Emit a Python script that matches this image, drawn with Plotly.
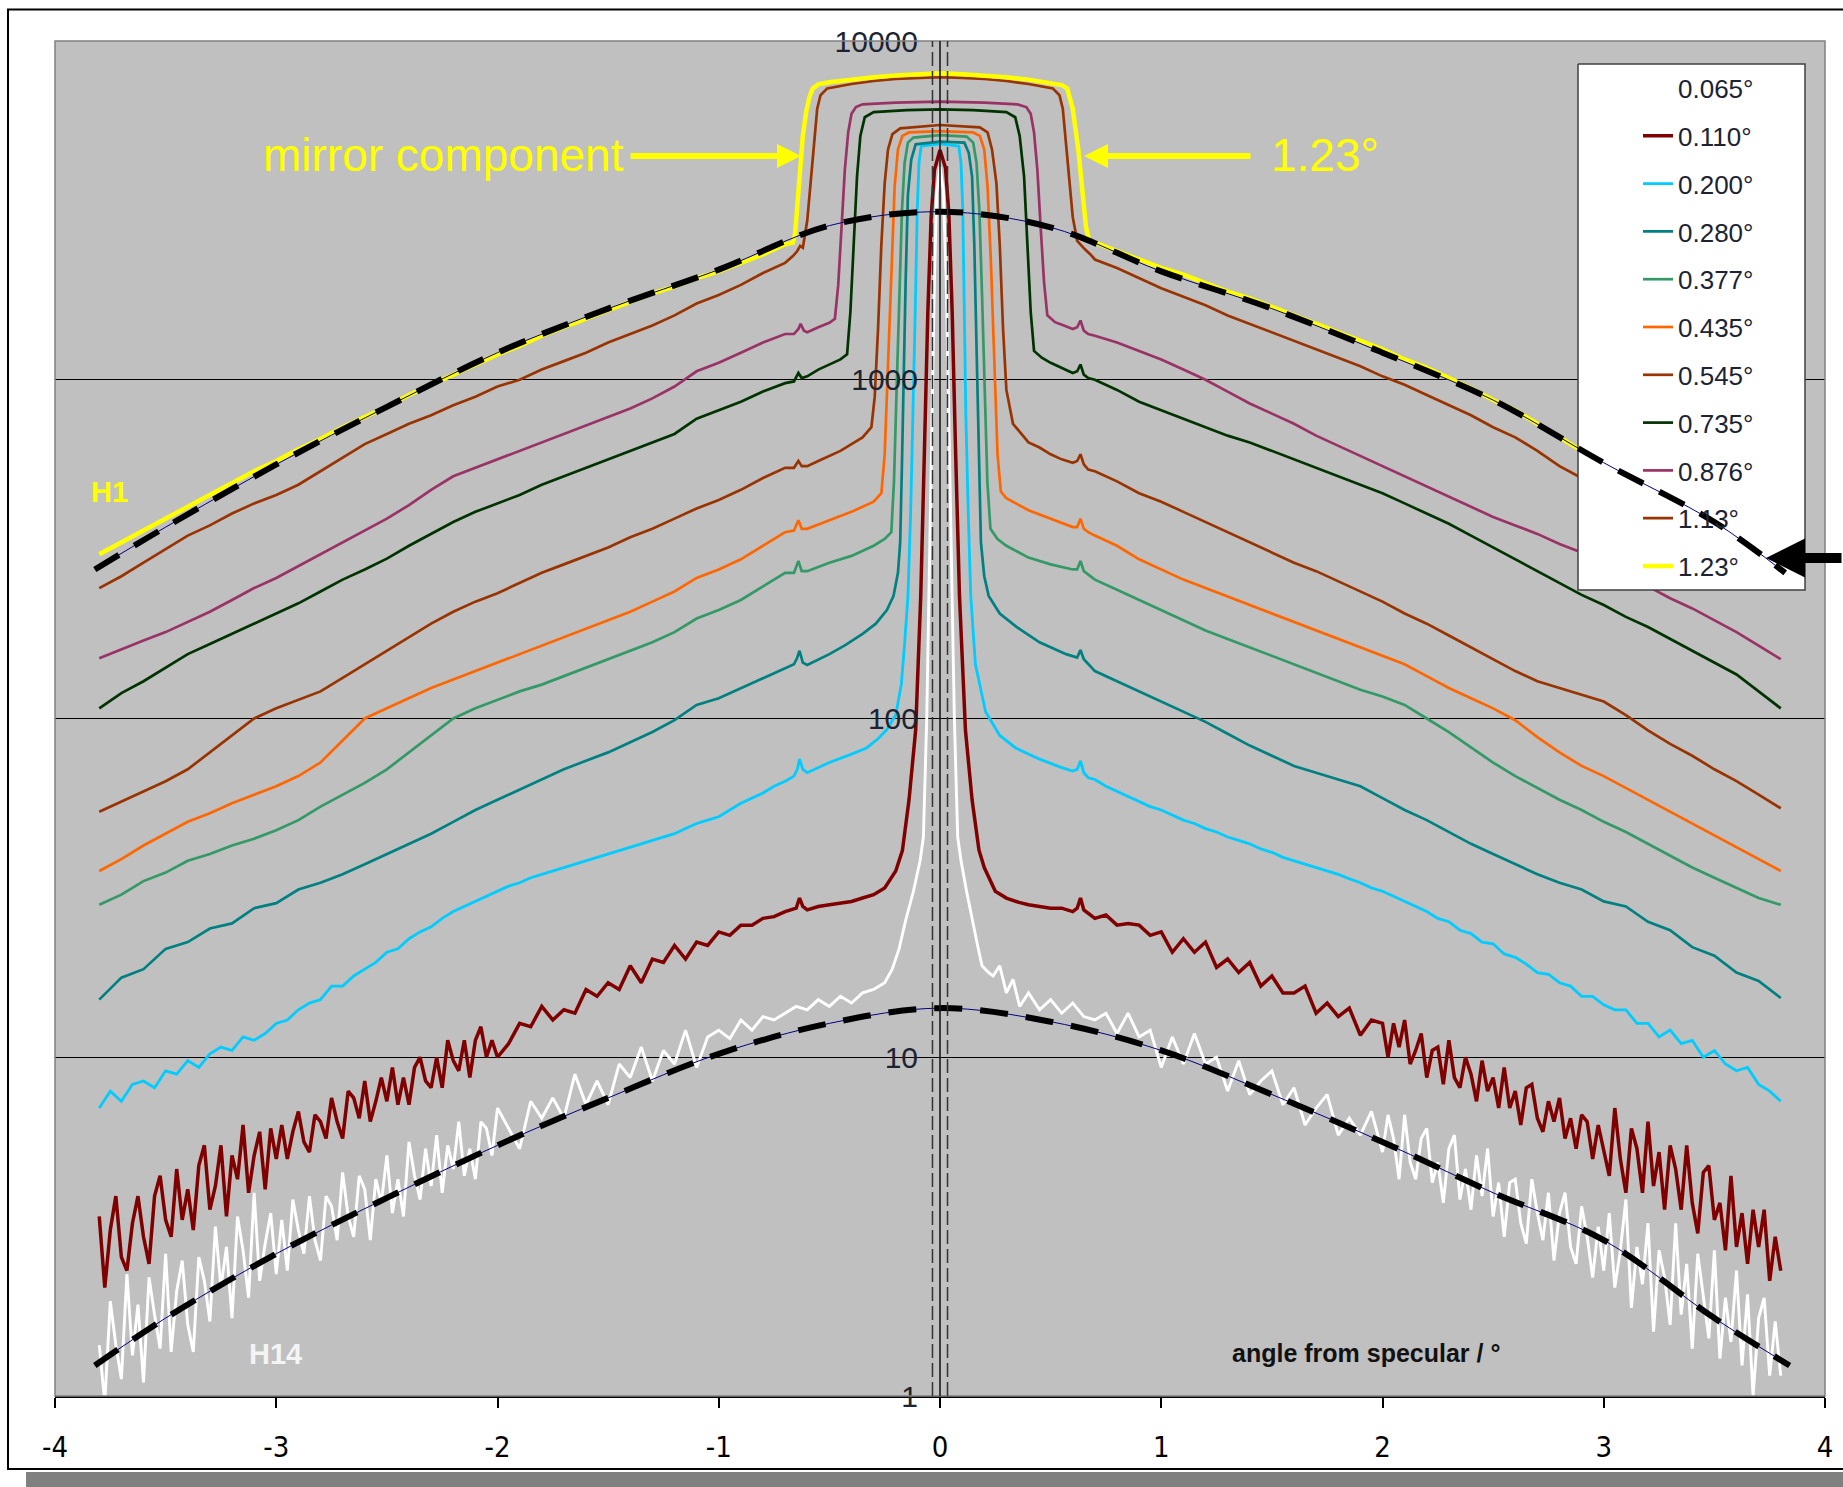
import numpy as np
import plotly.graph_objects as go

# ---------------------------------------------------------------------------
# Scattered intensity versus angle from specular, one scan per incidence angle.
# Values are log10(counts); wing segments are sampled on regular angle grids,
# the central part (specular peak / mirror plateau) as explicit (angle, value).
# ---------------------------------------------------------------------------
angles = ["0.065°", "0.110°", "0.200°", "0.280°", "0.377°", "0.435°",
          "0.545°", "0.735°", "0.876°", "1.13°", "1.23°"]
line_colors = ["#FFFFFF", "#800000", "#00CCFF", "#008080", "#339966", "#FF6600",
               "#993300", "#003300", "#993366", "#993300", "#FFFF00"]
line_widths = [2.9, 3.5, 2.8, 2.7, 2.7, 2.7, 2.7, 2.7, 2.7, 2.7, 4.5]

# 0.065° (H14) -- outer wings every 0.025°, inner wings every 0.05°
lg_0065_left_outer = [0.15, -0.02, 0.28, 0.15, 0.05, 0.36, 0.12, 0.27, 0.04, 0.35,
                      0.24, 0.14, 0.42, 0.13, 0.31, 0.40, 0.21, 0.13, 0.41, 0.34,
                      0.22, 0.50, 0.32, 0.44, 0.23, 0.53, 0.43, 0.29, 0.60, 0.34,
                      0.45, 0.54, 0.36, 0.52, 0.37, 0.58, 0.49, 0.42, 0.59, 0.46,
                      0.40, 0.59, 0.56, 0.46, 0.66, 0.53, 0.47, 0.65, 0.61, 0.46,
                      0.64, 0.57, 0.71, 0.54, 0.64, 0.53, 0.75, 0.65, 0.58, 0.73,
                      0.62, 0.77, 0.60, 0.74, 0.67, 0.81, 0.65, 0.73, 0.64, 0.81,
                      0.79, 0.71, 0.85]
lg_0065_left_inner = [0.79, 0.73, 0.87, 0.82, 0.88, 0.82, 0.95, 0.86, 0.93, 0.86,
                      0.98, 0.94, 1.03, 0.93, 1.02, 0.98, 1.08, 0.97, 1.06, 1.08,
                      1.055, 1.11, 1.08, 1.12, 1.11, 1.13]
lg_0065_mid = [(-0.65, 1.15), (-0.6, 1.14), (-0.55, 1.17), (-0.5, 1.15), (-0.45, 1.18),
               (-0.4, 1.16), (-0.35, 1.19), (-0.3, 1.20), (-0.25, 1.22), (-0.216, 1.26),
               (-0.185, 1.32), (-0.155, 1.405), (-0.12, 1.49), (-0.09, 1.58), (-0.075, 1.65),
               (-0.06, 2.0), (-0.048, 2.4), (-0.036, 2.887), (-0.025, 3.3), (-0.015, 3.55),
               (0.0, 3.629), (0.015, 3.56), (0.028, 3.3), (0.04, 2.887), (0.052, 2.4),
               (0.065, 2.0), (0.08, 1.65), (0.095, 1.58), (0.12, 1.49), (0.145, 1.405),
               (0.17, 1.33), (0.19, 1.27), (0.22, 1.25), (0.24, 1.24), (0.27, 1.27),
               (0.3, 1.19), (0.33, 1.23), (0.36, 1.15), (0.4, 1.19), (0.45, 1.14),
               (0.5, 1.17), (0.55, 1.13), (0.6, 1.16), (0.65, 1.12)]
lg_0065_right_inner = [1.11, 1.13, 1.07, 1.13, 1.06, 1.08, 0.97, 1.06, 0.98, 1.07,
                       0.98, 1.00, 0.90, 0.99, 0.89, 0.93, 0.96, 0.86, 0.91, 0.80,
                       0.85, 0.89, 0.77, 0.82, 0.77, 0.84]
lg_0065_right_outer = [0.72, 0.83, 0.76, 0.64, 0.83, 0.69, 0.64, 0.76, 0.79, 0.63,
                       0.69, 0.57, 0.73, 0.77, 0.58, 0.67, 0.55, 0.71, 0.59, 0.73,
                       0.53, 0.63, 0.47, 0.63, 0.64, 0.51, 0.45, 0.64, 0.54, 0.46,
                       0.60, 0.40, 0.54, 0.60, 0.44, 0.39, 0.56, 0.47, 0.35, 0.50,
                       0.37, 0.54, 0.32, 0.43, 0.58, 0.26, 0.44, 0.33, 0.51, 0.19,
                       0.43, 0.35, 0.21, 0.51, 0.24, 0.39, 0.14, 0.42, 0.30, 0.17,
                       0.43, 0.11, 0.29, 0.16, 0.37, 0.09, 0.30, 0.00, 0.23, 0.29,
                       0.06, 0.22, 0.06]

# 0.110° -- outer wings every 0.025°, inner wings every 0.05°
lg_0110_left_outer = [0.53, 0.32, 0.49, 0.59, 0.41, 0.37, 0.51, 0.59, 0.47, 0.39,
                      0.59, 0.65, 0.52, 0.47, 0.67, 0.52, 0.61, 0.49, 0.68, 0.74,
                      0.55, 0.62, 0.74, 0.53, 0.71, 0.64, 0.80, 0.60, 0.71, 0.78,
                      0.61, 0.79, 0.70, 0.80, 0.70, 0.78, 0.84, 0.75, 0.72, 0.83,
                      0.81, 0.76, 0.88, 0.81, 0.76, 0.90, 0.88, 0.82, 0.93, 0.81,
                      0.87, 0.94, 0.87, 0.97, 0.86, 0.94, 0.86, 0.97, 1.00, 0.93,
                      0.91, 1.00, 0.91, 1.05, 0.99, 0.96, 1.05, 0.94, 1.05, 1.09,
                      1.00, 1.05, 1.00]
lg_0110_left_inner = [1.04, 1.10, 1.09, 1.15, 1.11, 1.14, 1.13, 1.20, 1.18, 1.22,
                      1.20, 1.27, 1.22, 1.29, 1.28, 1.33, 1.29, 1.34, 1.33, 1.37,
                      1.36, 1.39, 1.39, 1.41, 1.415, 1.43]
lg_0110_mid = [(-0.65, 1.44), (-0.635, 1.47), (-0.62, 1.445), (-0.6, 1.435), (-0.55, 1.445),
               (-0.5, 1.45), (-0.45, 1.455), (-0.4, 1.46), (-0.35, 1.47), (-0.3, 1.48),
               (-0.25, 1.50), (-0.2, 1.55), (-0.17, 1.61), (-0.14, 1.76), (-0.11, 1.966),
               (-0.087, 2.362), (-0.07, 2.8), (-0.055, 3.2), (-0.04, 3.48), (-0.025, 3.62),
               (0.0, 3.678), (0.025, 3.625), (0.04, 3.49), (0.055, 3.2), (0.07, 2.8),
               (0.088, 2.362), (0.115, 1.966), (0.145, 1.76), (0.176, 1.612), (0.2, 1.56),
               (0.25, 1.49), (0.3, 1.47), (0.357, 1.457), (0.4, 1.45), (0.45, 1.445),
               (0.5, 1.44), (0.55, 1.44), (0.6, 1.43), (0.62, 1.44), (0.635, 1.47),
               (0.65, 1.435)]
lg_0110_right_inner = [1.41, 1.42, 1.39, 1.395, 1.39, 1.36, 1.37, 1.31, 1.35, 1.31,
                       1.34, 1.265, 1.29, 1.25, 1.28, 1.21, 1.24, 1.19, 1.19, 1.21,
                       1.13, 1.16, 1.12, 1.145, 1.065, 1.11]
lg_0110_right_outer = [1.10, 1.00, 1.10, 1.03, 1.11, 0.98, 1.02, 1.07, 0.94, 1.02,
                       1.03, 0.92, 1.05, 0.94, 0.91, 1.00, 0.95, 0.87, 0.99, 0.90,
                       0.94, 0.85, 0.97, 0.85, 0.90, 0.80, 0.91, 0.92, 0.82, 0.78,
                       0.87, 0.81, 0.88, 0.76, 0.82, 0.73, 0.83, 0.81, 0.70, 0.80,
                       0.73, 0.65, 0.85, 0.70, 0.60, 0.79, 0.73, 0.60, 0.81, 0.62,
                       0.72, 0.55, 0.74, 0.67, 0.55, 0.74, 0.57, 0.48, 0.66, 0.68,
                       0.52, 0.57, 0.43, 0.65, 0.44, 0.54, 0.39, 0.55, 0.44, 0.55,
                       0.34, 0.47, 0.37]

# 0.200° -- every 0.05°
lg_0200_left = [0.85, 0.90, 0.87, 0.92, 0.93, 0.91, 0.96, 0.95, 0.99, 0.97,
                1.01, 1.03, 1.02, 1.06, 1.05, 1.07, 1.10, 1.11, 1.14, 1.16,
                1.17, 1.21, 1.21, 1.24, 1.26, 1.28, 1.31, 1.32, 1.35, 1.37,
                1.385, 1.41, 1.43, 1.445, 1.46, 1.475, 1.49, 1.505, 1.515, 1.53,
                1.54, 1.55, 1.56, 1.57, 1.58, 1.59, 1.60, 1.61, 1.62, 1.63,
                1.64, 1.65, 1.66, 1.675, 1.69, 1.70, 1.71, 1.73, 1.75, 1.765,
                1.78, 1.80, 1.815]
lg_0200_mid = [(-0.66, 1.83), (-0.645, 1.85), (-0.635, 1.88), (-0.62, 1.85), (-0.6, 1.84),
               (-0.5, 1.87), (-0.4, 1.895), (-0.332, 1.913), (-0.28, 1.94), (-0.242, 1.966),
               (-0.2, 2.01), (-0.175, 2.1), (-0.16, 2.22), (-0.145, 2.362), (-0.133, 2.6),
               (-0.122, 2.887), (-0.112, 3.2), (-0.103, 3.5), (-0.095, 3.64), (-0.085, 3.69),
               (0.0, 3.696), (0.085, 3.69), (0.095, 3.64), (0.103, 3.5), (0.11, 3.2),
               (0.117, 2.887), (0.128, 2.6), (0.139, 2.362), (0.16, 2.16), (0.206, 2.02),
               (0.27, 1.95), (0.342, 1.913), (0.45, 1.88), (0.55, 1.855), (0.6, 1.845),
               (0.62, 1.85), (0.635, 1.875), (0.65, 1.84), (0.67, 1.825)]
lg_0200_right = [1.82, 1.80, 1.785, 1.77, 1.755, 1.74, 1.73, 1.715, 1.70, 1.69,
                 1.675, 1.665, 1.65, 1.64, 1.63, 1.615, 1.605, 1.59, 1.58, 1.57,
                 1.56, 1.55, 1.54, 1.527, 1.515, 1.50, 1.49, 1.475, 1.46, 1.445,
                 1.43, 1.41, 1.40, 1.375, 1.365, 1.34, 1.335, 1.305, 1.295, 1.275,
                 1.25, 1.245, 1.22, 1.21, 1.18, 1.18, 1.155, 1.14, 1.14, 1.10,
                 1.10, 1.06, 1.08, 1.04, 1.05, 1.00, 1.02, 0.98, 0.96, 0.97,
                 0.92, 0.90, 0.87]

# 0.280° -- every 0.1°
lg_0280_left = [1.17, 1.235, 1.26, 1.32, 1.34, 1.38, 1.395, 1.44, 1.455, 1.495,
                1.515, 1.54, 1.57, 1.60, 1.63, 1.66, 1.695, 1.73, 1.76, 1.79,
                1.82, 1.85, 1.875, 1.90, 1.93, 1.96, 1.995, 2.04, 2.06, 2.09,
                2.12, 2.15]
lg_0280_mid = [(-0.66, 2.16), (-0.645, 2.18), (-0.635, 2.2), (-0.62, 2.165), (-0.6, 2.158),
               (-0.5, 2.19), (-0.43, 2.216), (-0.35, 2.25), (-0.29, 2.28), (-0.24, 2.32),
               (-0.21, 2.362), (-0.19, 2.43), (-0.18, 2.52), (-0.172, 2.75), (-0.165, 3.0),
               (-0.155, 3.3), (-0.145, 3.547), (-0.13, 3.65), (-0.11, 3.695), (0.0, 3.703),
               (0.11, 3.70), (0.13, 3.67), (0.145, 3.6), (0.155, 3.4), (0.165, 3.1),
               (0.175, 2.8), (0.185, 2.52), (0.2, 2.42), (0.22, 2.362), (0.27, 2.31),
               (0.347, 2.27), (0.45, 2.225), (0.57, 2.19), (0.62, 2.18), (0.635, 2.202),
               (0.65, 2.175), (0.67, 2.16)]
lg_0280_right = [2.14, 2.11, 2.08, 2.05, 2.02, 1.99, 1.955, 1.92, 1.89, 1.86,
                 1.84, 1.82, 1.80, 1.765, 1.73, 1.70, 1.665, 1.63, 1.60, 1.57,
                 1.54, 1.515, 1.495, 1.46, 1.445, 1.40, 1.375, 1.325, 1.30, 1.25,
                 1.225, 1.175]

# 0.377°
lg_0377_left = [1.45, 1.48, 1.52, 1.545, 1.58, 1.60, 1.625, 1.645, 1.67, 1.70,
                1.74, 1.775, 1.81, 1.85, 1.90, 1.95, 2.0, 2.03, 2.055, 2.08,
                2.10, 2.125, 2.15, 2.175, 2.20, 2.225, 2.255, 2.295, 2.32, 2.35,
                2.39, 2.43]
lg_0377_mid = [(-0.66, 2.43), (-0.64, 2.465), (-0.625, 2.435), (-0.6, 2.435), (-0.5, 2.46),
               (-0.4, 2.48), (-0.3, 2.51), (-0.25, 2.53), (-0.22, 2.55), (-0.208, 2.7),
               (-0.197, 2.95), (-0.185, 3.25), (-0.172, 3.5), (-0.16, 3.64), (-0.145, 3.70),
               (-0.12, 3.715), (0.0, 3.722), (0.12, 3.718), (0.15, 3.70), (0.165, 3.64),
               (0.178, 3.5), (0.19, 3.25), (0.202, 2.95), (0.214, 2.7), (0.228, 2.56),
               (0.26, 2.53), (0.3, 2.51), (0.4, 2.475), (0.5, 2.455), (0.6, 2.44),
               (0.62, 2.44), (0.635, 2.465), (0.65, 2.435), (0.67, 2.425)]
lg_0377_right = [2.41, 2.38, 2.35, 2.32, 2.29, 2.26, 2.235, 2.21, 2.185, 2.16,
                 2.135, 2.11, 2.085, 2.065, 2.04, 2.0, 1.96, 1.915, 1.87, 1.83,
                 1.795, 1.76, 1.73, 1.695, 1.665, 1.63, 1.595, 1.56, 1.53, 1.50,
                 1.47, 1.45]

# 0.435°
lg_0435_left = [1.55, 1.585, 1.625, 1.66, 1.695, 1.72, 1.75, 1.775, 1.80, 1.83,
                1.87, 1.935, 2.0, 2.03, 2.06, 2.09, 2.115, 2.14, 2.165, 2.19,
                2.215, 2.24, 2.265, 2.29, 2.315, 2.345, 2.375, 2.415, 2.44, 2.47,
                2.51, 2.55]
lg_0435_mid = [(-0.66, 2.555), (-0.64, 2.585), (-0.625, 2.56), (-0.6, 2.56), (-0.5, 2.585),
               (-0.4, 2.61), (-0.3, 2.64), (-0.265, 2.665), (-0.25, 2.78), (-0.235, 3.05),
               (-0.22, 3.35), (-0.205, 3.57), (-0.19, 3.68), (-0.17, 3.72), (-0.14, 3.73),
               (0.0, 3.734), (0.15, 3.73), (0.18, 3.72), (0.2, 3.68), (0.215, 3.57),
               (0.23, 3.35), (0.245, 3.05), (0.26, 2.78), (0.275, 2.67), (0.3, 2.65),
               (0.4, 2.615), (0.5, 2.59), (0.6, 2.565), (0.62, 2.565), (0.635, 2.59),
               (0.65, 2.56), (0.67, 2.55)]
lg_0435_right = [2.54, 2.51, 2.47, 2.44, 2.41, 2.385, 2.36, 2.335, 2.31, 2.285,
                 2.26, 2.235, 2.21, 2.185, 2.16, 2.125, 2.09, 2.06, 2.03, 1.995,
                 1.945, 1.90, 1.86, 1.83, 1.795, 1.76, 1.725, 1.69, 1.655, 1.62,
                 1.585, 1.55]

# 0.545°
lg_0545_left = [1.725, 1.755, 1.785, 1.815, 1.85, 1.90, 1.95, 2.0, 2.03, 2.055,
                2.08, 2.12, 2.16, 2.20, 2.24, 2.28, 2.315, 2.345, 2.37, 2.40,
                2.43, 2.455, 2.48, 2.505, 2.535, 2.56, 2.59, 2.62, 2.645, 2.675,
                2.71, 2.74]
lg_0545_mid = [(-0.66, 2.74), (-0.64, 2.76), (-0.625, 2.745), (-0.6, 2.745), (-0.55, 2.76),
               (-0.5, 2.775), (-0.45, 2.79), (-0.4, 2.81), (-0.35, 2.83), (-0.31, 2.86),
               (-0.295, 2.95), (-0.28, 3.15), (-0.265, 3.4), (-0.25, 3.58), (-0.235, 3.68),
               (-0.215, 3.725), (-0.18, 3.742), (0.0, 3.752), (0.18, 3.745), (0.215, 3.73),
               (0.235, 3.68), (0.255, 3.58), (0.27, 3.4), (0.285, 3.15), (0.30, 2.97),
               (0.33, 2.87), (0.4, 2.815), (0.45, 2.8), (0.5, 2.78), (0.55, 2.765),
               (0.6, 2.755), (0.62, 2.76), (0.635, 2.78), (0.65, 2.75), (0.67, 2.735)]
lg_0545_right = [2.73, 2.70, 2.665, 2.64, 2.61, 2.58, 2.55, 2.52, 2.49, 2.46,
                 2.435, 2.405, 2.375, 2.345, 2.31, 2.28, 2.245, 2.21, 2.175, 2.14,
                 2.11, 2.09, 2.07, 2.05, 2.01, 1.965, 1.925, 1.89, 1.85, 1.815,
                 1.775, 1.735]

# 0.735°
lg_0735_left = [2.03, 2.075, 2.11, 2.15, 2.19, 2.22, 2.25, 2.28, 2.31, 2.34,
                2.375, 2.41, 2.44, 2.472, 2.51, 2.545, 2.58, 2.61, 2.635, 2.66,
                2.69, 2.715, 2.74, 2.765, 2.79, 2.815, 2.84, 2.885, 2.91, 2.935,
                2.965, 2.99]
lg_0735_mid = [(-0.66, 2.995), (-0.64, 3.02), (-0.625, 3.005), (-0.6, 3.01), (-0.55, 3.03),
               (-0.5, 3.045), (-0.45, 3.06), (-0.42, 3.075), (-0.405, 3.2), (-0.39, 3.4),
               (-0.375, 3.6), (-0.36, 3.72), (-0.34, 3.775), (-0.3, 3.79), (-0.15, 3.796),
               (0.0, 3.798), (0.15, 3.796), (0.3, 3.79), (0.34, 3.775), (0.36, 3.72),
               (0.38, 3.6), (0.395, 3.4), (0.41, 3.2), (0.425, 3.085), (0.46, 3.065),
               (0.5, 3.05), (0.55, 3.035), (0.6, 3.02), (0.62, 3.025), (0.635, 3.045),
               (0.65, 3.015), (0.67, 3.005)]
lg_0735_right = [3.0, 2.97, 2.935, 2.91, 2.885, 2.86, 2.835, 2.815, 2.79, 2.765,
                 2.74, 2.715, 2.69, 2.665, 2.635, 2.605, 2.575, 2.54, 2.505, 2.47,
                 2.435, 2.40, 2.365, 2.335, 2.30, 2.27, 2.235, 2.20, 2.165, 2.13,
                 2.08, 2.03]

# 0.876°
lg_0876_left = [2.178, 2.205, 2.23, 2.255, 2.285, 2.315, 2.35, 2.385, 2.415, 2.45,
                2.485, 2.52, 2.555, 2.59, 2.63, 2.675, 2.715, 2.74, 2.765, 2.79,
                2.815, 2.84, 2.865, 2.89, 2.915, 2.945, 2.98, 3.025, 3.05, 3.08,
                3.11, 3.135]
lg_0876_mid = [(-0.66, 3.135), (-0.64, 3.15), (-0.63, 3.165), (-0.615, 3.145), (-0.6, 3.14),
               (-0.55, 3.155), (-0.5, 3.168), (-0.475, 3.18), (-0.46, 3.28), (-0.445, 3.45),
               (-0.43, 3.62), (-0.415, 3.73), (-0.4, 3.785), (-0.38, 3.805), (-0.35, 3.813),
               (-0.2, 3.818), (0.0, 3.821), (0.2, 3.818), (0.35, 3.813), (0.39, 3.805),
               (0.41, 3.785), (0.425, 3.73), (0.44, 3.62), (0.455, 3.45), (0.47, 3.29),
               (0.485, 3.19), (0.52, 3.17), (0.56, 3.16), (0.6, 3.15), (0.62, 3.155),
               (0.635, 3.175), (0.65, 3.145), (0.67, 3.135)]
lg_0876_right = [3.13, 3.11, 3.085, 3.06, 3.03, 3.0, 2.965, 2.93, 2.90, 2.87,
                 2.835, 2.805, 2.775, 2.745, 2.715, 2.685, 2.655, 2.625, 2.595, 2.57,
                 2.545, 2.515, 2.49, 2.455, 2.42, 2.39, 2.355, 2.325, 2.29, 2.255,
                 2.215, 2.175]

# 1.13°
lg_113_left = [2.385, 2.42, 2.46, 2.50, 2.54, 2.57, 2.605, 2.635, 2.66, 2.69,
               2.73, 2.77, 2.81, 2.84, 2.87, 2.895, 2.925, 2.95, 2.98, 3.0,
               3.03, 3.055, 3.08, 3.11, 3.135, 3.16, 3.19, 3.225, 3.25, 3.28,
               3.315, 3.345]
lg_113_mid = [(-0.665, 3.365), (-0.645, 3.38), (-0.632, 3.395), (-0.62, 3.39), (-0.60, 3.47),
              (-0.585, 3.58), (-0.57, 3.70), (-0.555, 3.80), (-0.54, 3.84), (-0.51, 3.86),
              (-0.4, 3.873), (-0.3, 3.882), (-0.2, 3.888), (-0.1, 3.891), (0.0, 3.893),
              (0.1, 3.891), (0.2, 3.888), (0.3, 3.882), (0.4, 3.873), (0.51, 3.86),
              (0.54, 3.84), (0.555, 3.80), (0.57, 3.70), (0.585, 3.58), (0.60, 3.48),
              (0.62, 3.41), (0.64, 3.395), (0.655, 3.385), (0.68, 3.37)]
lg_113_right = [3.355, 3.33, 3.30, 3.27, 3.245, 3.22, 3.19, 3.165, 3.14, 3.115,
                3.09, 3.065, 3.04, 3.01, 2.985, 2.955, 2.925, 2.895, 2.86, 2.83,
                2.79, 2.745, 2.71, 2.675, 2.64, 2.60, 2.565, 2.53, 2.50, 2.47,
                2.435, 2.40]

# 1.23° (H1)
lg_123_left = [2.485, 2.52, 2.555, 2.59, 2.627, 2.66, 2.695, 2.73, 2.76, 2.795,
               2.825, 2.86, 2.89, 2.92, 2.955, 2.985, 3.015, 3.045, 3.075, 3.10,
               3.13, 3.155, 3.18, 3.205, 3.23, 3.255, 3.275, 3.30, 3.32, 3.345,
               3.37, 3.40]
lg_123_mid = [(-0.665, 3.405), (-0.655, 3.43), (-0.645, 3.52), (-0.635, 3.62), (-0.62, 3.72),
              (-0.605, 3.79), (-0.59, 3.835), (-0.575, 3.86), (-0.55, 3.872), (-0.5, 3.878),
              (-0.4, 3.886), (-0.3, 3.893), (-0.2, 3.898), (-0.1, 3.902), (0.0, 3.905),
              (0.1, 3.902), (0.2, 3.898), (0.3, 3.893), (0.4, 3.886), (0.5, 3.876),
              (0.55, 3.87), (0.575, 3.86), (0.60, 3.80), (0.625, 3.68), (0.645, 3.55),
              (0.66, 3.45), (0.675, 3.41)]
lg_123_right = [3.405, 3.38, 3.355, 3.33, 3.31, 3.285, 3.26, 3.24, 3.215, 3.19,
                3.165, 3.14, 3.115, 3.09, 3.06, 3.035, 3.005, 2.975, 2.94, 2.91,
                2.87, 2.83, 2.79, 2.755, 2.72, 2.68, 2.645, 2.61, 2.575, 2.54,
                2.505, 2.47]

# Model curves (diffuse component) for H1 and H14
fit_h1_x = [-3.82, -3.5, -3.0, -2.5, -2.0, -1.5, -1.0, -0.5, 0.0, 0.5, 1.0, 1.5, 2.0, 2.5, 3.0, 3.5, 3.82]
fit_h1_lg = [2.44, 2.565, 2.75, 2.92, 3.08, 3.21, 3.325, 3.455, 3.496, 3.45, 3.32, 3.21, 3.08, 2.94, 2.755, 2.58, 2.43]
fit_h14_x = [-3.82, -3.5, -3.0, -2.5, -2.0, -1.5, -1.0, -0.5, 0.0, 0.5, 1.0, 1.5, 2.0, 2.5, 3.0, 3.5, 3.84]
fit_h14_lg = [0.09, 0.23, 0.42, 0.585, 0.74, 0.88, 1.01, 1.10, 1.145, 1.105, 1.02, 0.89, 0.75, 0.60, 0.46, 0.23, 0.09]

# Angular acceptance markers around the specular direction
acceptance_x = [-0.034, 0.034]

# each scan: (left wing segments, centre, right wing segments)
scans = [
    ([(-3.8, -2.0, lg_0065_left_outer), (-1.95, -0.7, lg_0065_left_inner)], lg_0065_mid,
     [(0.7, 1.95, lg_0065_right_inner), (2.0, 3.8, lg_0065_right_outer)]),
    ([(-3.8, -2.0, lg_0110_left_outer), (-1.95, -0.7, lg_0110_left_inner)], lg_0110_mid,
     [(0.7, 1.95, lg_0110_right_inner), (2.0, 3.8, lg_0110_right_outer)]),
    ([(-3.8, -0.7, lg_0200_left)], lg_0200_mid, [(0.7, 3.8, lg_0200_right)]),
    ([(-3.8, -0.7, lg_0280_left)], lg_0280_mid, [(0.7, 3.8, lg_0280_right)]),
    ([(-3.8, -0.7, lg_0377_left)], lg_0377_mid, [(0.7, 3.8, lg_0377_right)]),
    ([(-3.8, -0.7, lg_0435_left)], lg_0435_mid, [(0.7, 3.8, lg_0435_right)]),
    ([(-3.8, -0.7, lg_0545_left)], lg_0545_mid, [(0.7, 3.8, lg_0545_right)]),
    ([(-3.8, -0.7, lg_0735_left)], lg_0735_mid, [(0.7, 3.8, lg_0735_right)]),
    ([(-3.8, -0.7, lg_0876_left)], lg_0876_mid, [(0.7, 3.8, lg_0876_right)]),
    ([(-3.8, -0.7, lg_113_left)], lg_113_mid, [(0.7, 3.8, lg_113_right)]),
    ([(-3.8, -0.7, lg_123_left)], lg_123_mid, [(0.7, 3.8, lg_123_right)]),
]


def assemble(left_segments, mid, right_segments):
    xs, ls = [], []
    for x0, x1, vals in left_segments:
        xs.append(np.linspace(x0, x1, len(vals)))
        ls.append(np.array(vals, float))
    mx, my = np.array(mid, dtype=float).T
    xs.append(mx)
    ls.append(my)
    for x0, x1, vals in right_segments:
        xs.append(np.linspace(x0, x1, len(vals)))
        ls.append(np.array(vals, float))
    return np.concatenate(xs), 10.0 ** np.concatenate(ls)


# ---------------------------------------------------------------------------
# Page geometry (pixels) of the plotting area
# ---------------------------------------------------------------------------
W, H = 1843, 1487
PL, PR, PT, PB = 55, 1825, 41, 1396


def paper_x(px):
    return (px - PL) / (PR - PL)


def paper_y(py):
    return (PB - py) / (PB - PT)


def data_x(px):
    return -4 + 8 * (px - PL) / (PR - PL)


def data_y(py):
    return 10 ** (4 - 4 * (py - PT) / (PB - PT))


FONT = "Liberation Sans, Arial, sans-serif"
NARROW = "Liberation Sans Narrow, Arial Narrow, DejaVu Sans Condensed, Liberation Sans, sans-serif"
TEXT_DARK = "#1c2333"

fig = go.Figure()

for name, color, width, (lseg, mid, rseg) in zip(angles, line_colors, line_widths, scans):
    x, y = assemble(lseg, mid, rseg)
    fig.add_trace(go.Scatter(
        x=x, y=y, mode="lines", name=name, legendgroup=name,
        line=dict(color=color, width=width), hoverinfo="skip"))

# legend frame (white panel sits over the scans, under the model curves)
bx0, bx1 = data_x(1578), data_x(1805)
by0, by1 = data_y(64), data_y(590)
fig.add_trace(go.Scatter(
    x=[bx0, bx1, bx1, bx0, bx0], y=[by0, by0, by1, by1, by0],
    mode="lines", fill="toself", fillcolor="white",
    line=dict(color="#404040", width=1.5), showlegend=False, hoverinfo="skip"))

# model curves: thin continuous line with heavy dashes on top
for fx, flg in ((fit_h1_x, fit_h1_lg), (fit_h14_x, fit_h14_lg)):
    fy = 10.0 ** np.array(flg)
    fig.add_trace(go.Scatter(x=fx, y=fy, mode="lines", showlegend=False, hoverinfo="skip",
                             line=dict(color="#000080", width=1, shape="spline", smoothing=1.0)))
    fig.add_trace(go.Scatter(x=fx, y=fy, mode="lines", showlegend=False, hoverinfo="skip",
                             line=dict(color="black", width=6, dash="28px,18px",
                                       shape="spline", smoothing=1.0)))

shapes = [
    # plot-area border
    dict(type="rect", xref="paper", yref="paper", x0=0, x1=1, y0=0, y1=1,
         line=dict(color="#808080", width=1.5), layer="above"),
    # chart frame and its drop shadow
    dict(type="rect", xref="paper", yref="paper",
         x0=paper_x(26), x1=paper_x(1900), y0=paper_y(1472), y1=paper_y(1520),
         fillcolor="#808080", line=dict(width=0), layer="below"),
    dict(type="rect", xref="paper", yref="paper",
         x0=paper_x(8), x1=paper_x(1900), y0=paper_y(1469), y1=paper_y(9.5),
         line=dict(color="black", width=2), layer="above"),
    # vertical value axis through zero
    dict(type="line", xref="x", yref="paper", x0=0, x1=0, y0=0, y1=1,
         line=dict(color="#1a1a1a", width=1.6), layer="above"),
]
for ax_ in acceptance_x:
    shapes.append(dict(type="line", xref="x", yref="paper", x0=ax_, x1=ax_, y0=0, y1=1,
                       line=dict(color="#333333", width=1.5, dash="14px,5px"), layer="above"))

annotations = [
    dict(xref="paper", yref="paper", x=paper_x(261), y=paper_y(155), xanchor="left", yanchor="middle",
         text="mirror component", showarrow=False, font=dict(family=FONT, size=46, color="#FFFF00")),
    dict(xref="paper", yref="paper", x=paper_x(1269), y=paper_y(155), xanchor="left", yanchor="middle",
         text="1.23°", showarrow=False, font=dict(family=FONT, size=46, color="#FFFF00")),
    dict(xref="paper", yref="paper", x=paper_x(801), y=paper_y(156), text="", showarrow=True,
         ax=-172, ay=0, arrowcolor="#FFFF00", arrowwidth=6, arrowhead=2, arrowsize=0.8, standoff=0),
    dict(xref="paper", yref="paper", x=paper_x(1084), y=paper_y(156), text="", showarrow=True,
         ax=168, ay=0, arrowcolor="#FFFF00", arrowwidth=6, arrowhead=2, arrowsize=0.8, standoff=0),
    dict(xref="paper", yref="paper", x=paper_x(1766), y=paper_y(558), text="", showarrow=True,
         ax=150, ay=0, arrowcolor="black", arrowwidth=10, arrowhead=2, arrowsize=0.78, standoff=0),
    dict(xref="paper", yref="paper", x=paper_x(89), y=paper_y(492), xanchor="left", yanchor="middle",
         text="<b>H1</b>", showarrow=False, font=dict(family=FONT, size=29, color="#FFFF00")),
    dict(xref="paper", yref="paper", x=paper_x(247), y=paper_y(1354), xanchor="left", yanchor="middle",
         text="<b>H14</b>", showarrow=False, font=dict(family=FONT, size=29, color="#F4F4F4")),
    dict(xref="paper", yref="paper", x=paper_x(1230), y=paper_y(1353), xanchor="left", yanchor="middle",
         text="<b>angle from specular / °</b>", showarrow=False,
         font=dict(family=FONT, size=25, color="#111111")),
]

fig.update_layout(
    width=W, height=H,
    margin=dict(l=PL, r=W - PR, t=PT, b=H - PB, pad=0, autoexpand=False),
    paper_bgcolor="white", plot_bgcolor="#C0C0C0",
    showlegend=True,
    legend=dict(x=paper_x(1638), y=paper_y(64.6), xanchor="left", yanchor="top",
                bgcolor="rgba(0,0,0,0)", borderwidth=0, traceorder="grouped",
                tracegroupgap=11, font=dict(family=FONT, size=26, color=TEXT_DARK)),
    xaxis=dict(range=[-4, 4], tickvals=[-4, -3, -2, -1, 0, 1, 2, 3, 4],
               ticktext=["-4", "-3", "-2", "-1", "0", "1", "2", "3", "4"],
               ticks="outside", ticklen=10, tickwidth=1.5, tickcolor="black",
               showline=True, linecolor="black", linewidth=1.5,
               showgrid=False, zeroline=False, ticklabelstandoff=14,
               tickfont=dict(family=NARROW, size=29, color="black")),
    yaxis=dict(type="log", range=[0, 4], tickvals=[1, 10, 100, 1000, 10000],
               ticktext=["1", "10", "100", "1000", "10000"],
               anchor="free", position=0.5, ticks="", showline=False,
               showgrid=True, gridcolor="black", gridwidth=1, zeroline=False,
               ticklabelstandoff=22,
               tickfont=dict(family=FONT, size=30, color=TEXT_DARK)),
    shapes=shapes,
    annotations=annotations,
)

fig.write_html("out.html")
